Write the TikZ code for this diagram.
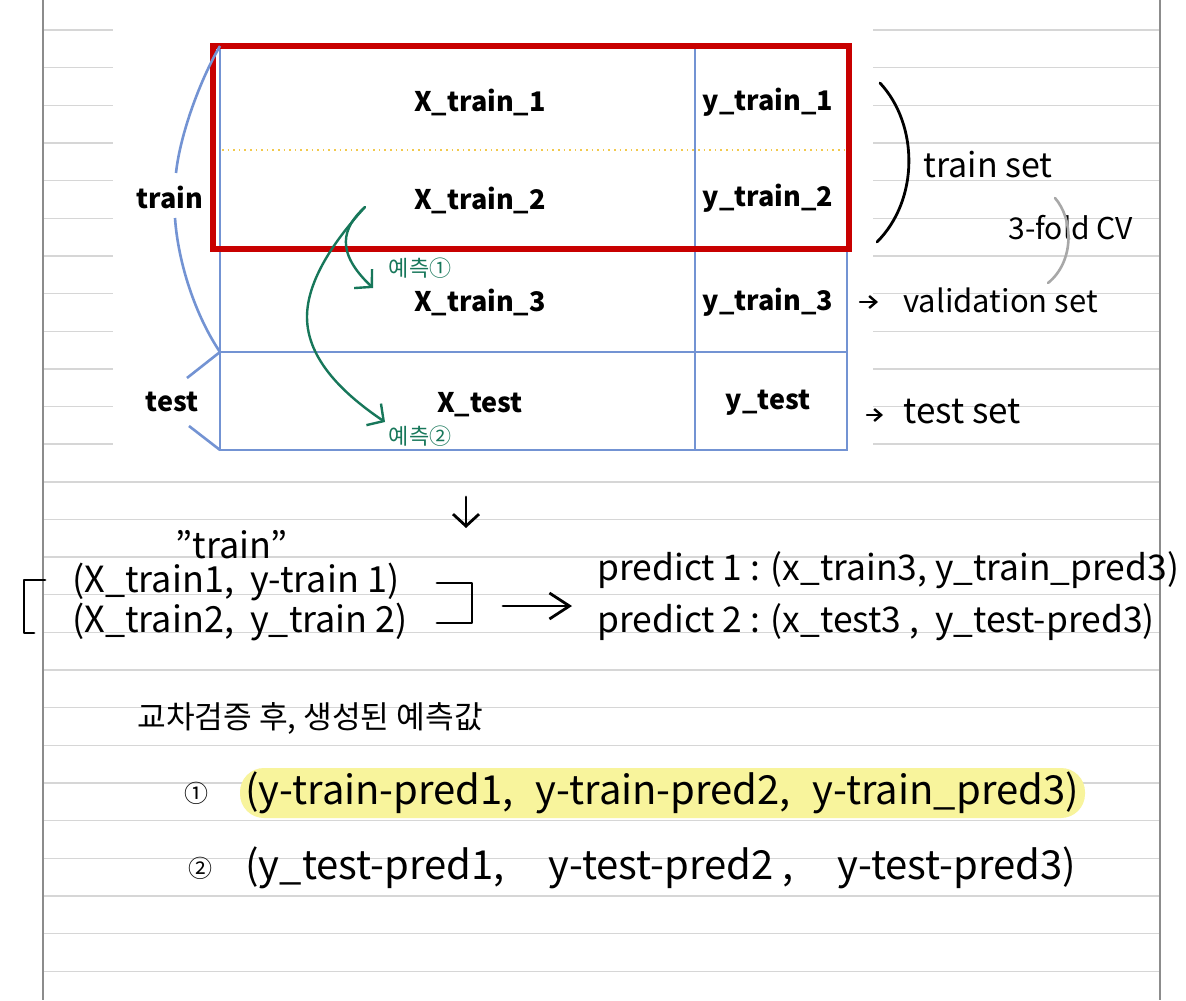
\documentclass[tikz,border=0pt]{standalone}
\usepackage{fontspec}
\setmainfont{Noto Sans CJK KR}
\usetikzlibrary{arrows.meta}
\definecolor{rule}{HTML}{D6D6D6}
\definecolor{margin}{HTML}{8C8C8C}
\definecolor{tblblue}{HTML}{7393D3}
\definecolor{boxred}{HTML}{C80000}
\definecolor{inkgreen}{HTML}{17775A}
\definecolor{dotyellow}{HTML}{F2C94C}
\definecolor{marker}{HTML}{F8F49C}
\definecolor{pencil}{HTML}{A8A8A8}
\begin{document}
\begin{tikzpicture}[x=0.5pt, y=-0.5pt,
  every node/.style={inner sep=0pt},
  ruled/.style={draw=rule, line width=0.7pt},
  tblline/.style={draw=tblblue, line width=1.3pt},
  cell/.style={font=\fontsize{13.5}{16}\selectfont\bfseries},
  ink/.style={line width=1.4pt, line cap=round, line join=round},
  hw/.style={anchor=west, font=\fontsize{18}{20}\selectfont},
  green arrow/.style={draw=inkgreen, line width=1.2pt, line cap=round,
    -{Straight Barb[length=6pt,width=13pt]}},
  small arrow/.style={ink, line width=1.2pt, -{Straight Barb[length=3.5pt,width=6pt]}}]
  \useasboundingbox (0,0) rectangle (1186,1000);
  \fill[white] (0,0) rectangle (1186,1000);
  % notebook page
  \foreach \k in {0,...,25}
    \draw[ruled] (43,{30+37.65*\k}) -- (1160,{30+37.65*\k});
  \fill[white] (113,0) rectangle (873,466);
  \draw[margin, line width=1.2pt] (43,0) -- (43,1000) (1160,0) -- (1160,1000);
  % table
  \draw[tblline] (220,46) rectangle (847,450);
  \draw[tblline] (695,46) -- (695,450) (220,249) -- (847,249) (220,352) -- (847,352);
  \draw[dotyellow, line width=0.8pt, dotted] (222,150) -- (845,150);
  \draw[boxred, line width=3pt] (213,46) rectangle (849,249);
  \node[cell] (X1) at (480,102) {X\_train\_1};
  \node[cell] (Y1) at (768,102) {y\_train\_1};
  \node[cell] (X2) at (480,200) {X\_train\_2};
  \node[cell] (Y2) at (768,198) {y\_train\_2};
  \node[cell] (X3) at (480,302) {X\_train\_3};
  \node[cell] (Y3) at (768,302) {y\_train\_3};
  \node[cell] (Xt) at (480,405) {X\_test};
  \node[cell] (Yt) at (768,403) {y\_test};
  \node[cell] (trn) at (170,197) {train};
  \node[cell] (tst) at (172,402) {test};
  \draw[tblline] (220,46) .. controls (200,80) and (180,135) .. (176,173);
  \draw[tblline] (175,218) .. controls (178,262) and (195,315) .. (220,352);
  \draw[tblline] (220,352) -- (187,378) (189,426) -- (220,450);
  % predictions
  \coordinate (src) at (365,207);
  \coordinate (tip1) at (373,288);
  \coordinate (tip2) at (385,422);
  \node[text=inkgreen, font=\fontsize{11}{12}\selectfont] (pred1) at (420,268) {예측①};
  \node[text=inkgreen, font=\fontsize{11}{12}\selectfont] (pred2) at (420,436) {예측②};
  \draw[green arrow] (src) .. controls (342,228) and (335,252) .. (tip1);
  \draw[green arrow] (src) .. controls (335,240) and (307,280) .. (307,317)
    .. controls (307,360) and (345,395) .. (tip2);
  % sets
  \draw[ink] (880,83) .. controls (919,125) and (919,200) .. (877,242);
  \node[hw, font=\fontsize{17}{18}\selectfont] (trset) at (923,165) {train set};
  \node[hw, font=\fontsize{15}{17}\selectfont] (cv) at (1008,228) {3-fold CV};
  \draw[pencil, line width=1.3pt, line cap=round] (1055,198) .. controls (1074,220) and (1074,262) .. (1048,283);
  \coordinate (va0) at (860,302);
  \coordinate (va1) at (878,302);
  \coordinate (te0) at (867,415);
  \coordinate (te1) at (883,415);
  \draw[small arrow] (va0) -- (va1);
  \draw[small arrow] (te0) -- (te1);
  \node[hw, font=\fontsize{15.5}{18}\selectfont] (valset) at (903,300) {validation set};
  \node[hw, font=\fontsize{17.5}{18}\selectfont] (tset) at (903,412) {test set};
  % training pairs
  \coordinate (dn0) at (466,497);
  \coordinate (dn1) at (466,528);
  \draw[ink, -{Straight Barb[length=6pt,width=13pt]}] (dn0) -- (dn1);
  \node[hw] (quote) at (175,545) {\char"22 train\char"22};
  \node[hw] (pair1) at (72,582) {(X\_train1,\ \ y-train 1)};
  \node[hw] (pair2) at (72,622) {(X\_train2,\ \ y\_train 2)};
  \draw[ink] (45,580) -- (24,580) -- (24,633) -- (34,633);
  \draw[ink] (437,583) -- (472,583) -- (472,623) -- (437,623);
  \coordinate (go0) at (503,606);
  \coordinate (go1) at (572,606);
  \draw[ink, -{Straight Barb[length=10pt,width=13pt]}] (go0) -- (go1);
  \node[hw, font=\fontsize{17.7}{20}\selectfont] (pl1) at (597,570) {predict 1 : (x\_train3, y\_train\_pred3)};
  \node[hw, font=\fontsize{17.7}{20}\selectfont] (pl2) at (597,622) {predict 2 : (x\_test3 ,\ \ y\_test-pred3)};
  % results
  \node[hw, font=\fontsize{15.6}{17}\selectfont] (kor) at (137,718) {교차검증 후, 생성된 예측값};
  \fill[marker, rounded corners=12pt] (240,768) rectangle (1085,818);
  \node[font=\fontsize{12}{12}\selectfont] (c1) at (196,793) {①};
  \node[hw, font=\fontsize{20}{22}\selectfont] (res1) at (245,793) {(y-train-pred1,\ \ \hspace{0.1em}y-train-pred2,\ \ \hspace{0.1em}y-train\_pred3)};
  \node[font=\fontsize{12}{12}\selectfont] (c2) at (200,868) {②};
  \node[hw, font=\fontsize{20}{22}\selectfont] (res2) at (245,868) {(y\_test-pred1,\hspace{1.1em}y-test-pred2 ,\hspace{1.1em}y-test-pred3)};
\end{tikzpicture}
\end{document}
